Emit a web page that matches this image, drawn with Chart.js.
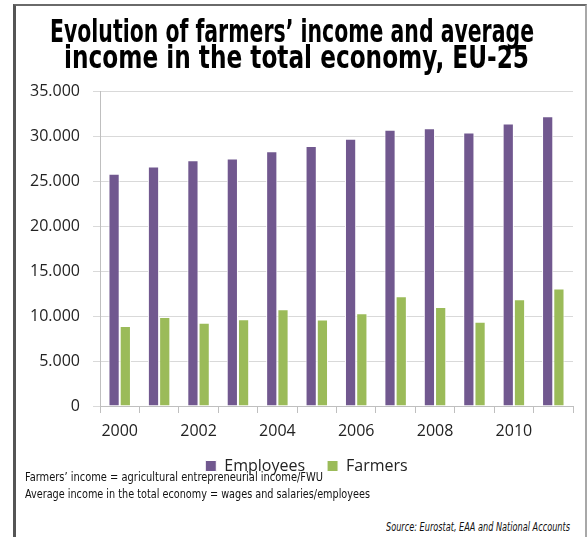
<!DOCTYPE html>
<html>
<head>
<meta charset="utf-8">
<script src="https://cdn.jsdelivr.net/npm/chart.js@4.4.1/dist/chart.umd.min.js"></script>
<style>
  html, body { margin: 0; padding: 0; background: #fff; }
  #page { position: relative; width: 587px; height: 537px; overflow: hidden; background: #fff; }
  #frame { position: absolute; left: 13px; top: 4px; width: 569px; height: 540px;
           border-left: 3px solid #555; border-top: 2px solid #6a6a6a; border-right: 2px solid #a8a8a8; }
  #chartBox { position: absolute; left: 0; top: 0; width: 587px; height: 484px; }
  .txt { position: absolute; white-space: nowrap; display: inline-block; color: #111; }
  .title { font-family: "Liberation Sans Narrow", "DejaVu Sans Condensed", sans-serif; font-weight: bold;
           font-size: 32px; line-height: 26px; color: #000; transform-origin: left center; }
  .note { font-family: "Liberation Sans Narrow", "DejaVu Sans Condensed", sans-serif;
          font-size: 13px; line-height: 17px; color: #111; transform-origin: left center; }
  .src { font-style: italic; }
</style>
</head>
<body>
<div id="page">
  <div id="frame"></div>
  <div id="chartBox"><canvas id="c"></canvas></div>
  <span class="txt title" id="t1" style="left:50px; top:18px;" data-w="484">Evolution of farmers’ income and average</span>
  <span class="txt title" id="t2" style="left:64px; top:44px;" data-w="465">income in the total economy, EU-25</span>
  <span class="txt note" id="n1" style="left:25px; top:468px;" data-w="298">Farmers’ income = agricultural entrepreneurial income/FWU</span>
  <span class="txt note" id="n2" style="left:25px; top:485px;" data-w="345">Average income in the total economy = wages and salaries/employees</span>
  <span class="txt note src" id="n3" style="left:386px; top:518px;" data-w="184">Source: Eurostat, EAA and National Accounts</span>
</div>
<script>
// ---- data ----
const years = ['2000','2001','2002','2003','2004','2005','2006','2007','2008','2009','2010','2011'];
const employees = [25800, 26600, 27300, 27500, 28300, 28900, 29700, 30700, 30850, 30400, 31400, 32200];
const farmers   = [8900, 9900, 9250, 9650, 10750, 9600, 10300, 12200, 11000, 9350, 11850, 13050];
const seriesNames = ['Employees', 'Farmers'];
const yTickValues = [0, 5000, 10000, 15000, 20000, 25000, 30000, 35000];

// ---- fit condensed text to measured widths ----
document.querySelectorAll('.txt[data-w]').forEach(el => {
  const w = el.getBoundingClientRect().width;
  const target = parseFloat(el.dataset.w);
  if (w > 0) el.style.transform = 'scaleX(' + (target / w) + ')';
});

function fmt(v) {
  if (v === 0) return '0';
  const s = String(Math.round(v));
  return s.replace(/\B(?=(\d{3})+(?!\d))/g, '.');
}

const tickFont = { family: '"Open Sans", sans-serif', size: 16 };

// shift the legend block to the right, as in the reference
const legendShift = {
  id: 'legendShift',
  afterLayout(chart) {
    if (chart.legend) { chart.legend.left += 20; chart.legend.right += 20; }
  }
};

new Chart(document.getElementById('c'), {
  type: 'bar',
  data: {
    labels: years,
    datasets: [
      { label: seriesNames[0], data: employees, backgroundColor: '#71588F', borderColor: '#ffffff', borderWidth: 1,
        categoryPercentage: 0.57, barPercentage: 1.0 },
      { label: seriesNames[1], data: farmers, backgroundColor: '#9BBB59', borderColor: '#ffffff', borderWidth: 1,
        categoryPercentage: 0.57, barPercentage: 1.0 }
    ]
  },
  plugins: [legendShift],
  options: {
    responsive: true,
    maintainAspectRatio: false,
    animation: false,
    layout: { padding: { top: 91, left: 0, right: 14, bottom: 0 } },
    plugins: {
      title: { display: false },
      tooltip: { enabled: false },
      legend: {
        position: 'bottom',
        labels: {
          font: { family: '"Open Sans", sans-serif', size: 16 },
          color: '#222',
          boxWidth: 11, boxHeight: 11,
          padding: 22
        }
      }
    },
    scales: {
      x: {
        grid: { display: true, drawOnChartArea: false, drawTicks: true, tickLength: 7, color: '#bfbfbf', offset: true },
        border: { display: true, color: '#bfbfbf' },
        ticks: {
          font: tickFont, color: '#222', padding: 9, autoSkip: false, maxRotation: 0,
          callback: function(value, index) { return index % 2 === 0 ? years[index] : ''; }
        },
        afterFit: function(scale) { scale.height = 30; }
      },
      y: {
        min: 0, max: 35000,
        afterBuildTicks: function(scale) { scale.ticks = yTickValues.map(v => ({ value: v })); },
        grid: { color: '#d9d9d9', tickLength: 7, drawTicks: true },
        border: { display: true, color: '#bfbfbf' },
        ticks: { font: tickFont, color: '#222', padding: 13, callback: v => fmt(v) },
        afterFit: function(scale) { scale.width = 100; }
      }
    }
  }
});
</script>
</body>
</html>
